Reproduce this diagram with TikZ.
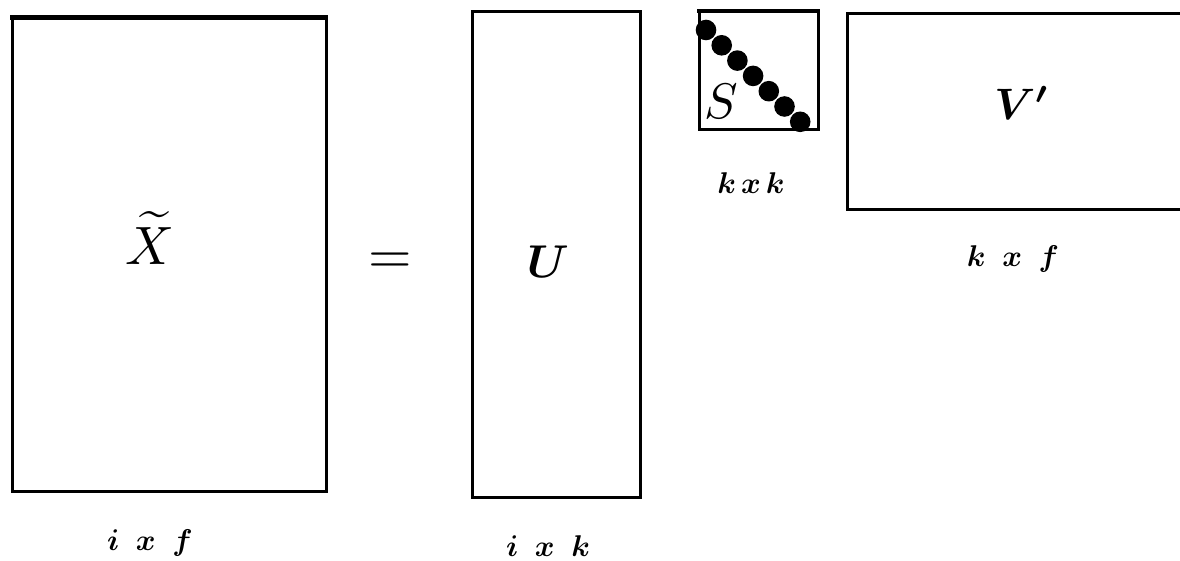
\documentclass[tikz,border=0pt]{standalone}
\usepackage{amsmath,bm}
\begin{document}
\begin{tikzpicture}[x=1pt,y=-1pt,
  mat/.style={draw=black,line width=3pt},
  lbl/.style={scale=3.0,inner sep=0pt},
  dotc/.style={fill=black,draw=none}]
\useasboundingbox (0,0) rectangle (1180,561);
% boxes
\draw[mat] (12,19) rectangle (326,491);
\draw[line width=5pt] (10,18) -- (328,18);
\draw[mat] (472,11.5) rectangle (640,497);
\draw[mat] (699,12) rectangle (818,130);
\draw[line width=4pt] (697,11.5) -- (820,11.5);
\draw[mat] (1190,14) -- (847,14) -- (847,210) -- (1190,210);
% nodes
\node[scale=5.4] (X) at (150,238) {$\widetilde{X}$};
\node[scale=5.6] (eq) at (390,263) {$=$};
\node[scale=4.6] (U) at (548,262) {$\bm{U}$};
\node[scale=4.4] (V) at (1022,103) {$\bm{V'}$};
\node[scale=5.0] (S) at (721,101) {$S$};
\foreach \i in {0,...,6} {
  \fill[dotc] ({706+\i*15.7},{30+\i*15.3}) circle (10.3);
}
\node[lbl] (l1) at (150,543) {$\bm{i}\;\;\bm{x}\;\;\bm{f}$};
\node[lbl] (l2) at (548,546) {$\bm{i}\;\;\bm{x}\;\;\bm{k}$};
\node[lbl] (l3) at (751,183) {$\bm{k}\,\bm{x}\,\bm{k}$};
\node[lbl] (l4) at (1013,259) {$\bm{k}\;\;\bm{x}\;\;\bm{f}$};
\end{tikzpicture}
\end{document}
